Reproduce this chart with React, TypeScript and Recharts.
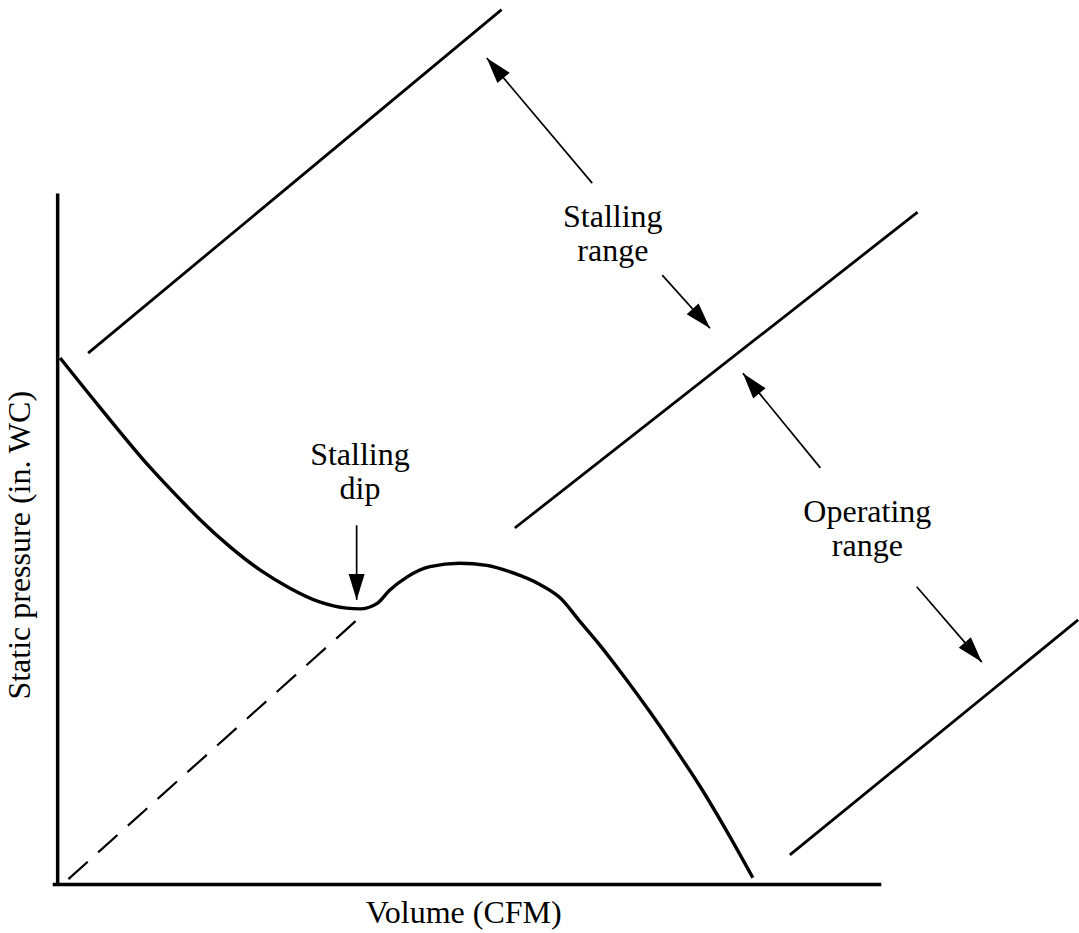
import React from 'react';
import { ComposedChart, Line, XAxis, YAxis, ReferenceLine, ReferenceDot } from 'recharts';

// Fan curve: volume (x) vs static pressure (y), arbitrary units 0..100 on each axis
const FAN_VOLUME = [0.3, 5.1, 11.2, 14.9, 17.3, 20.9, 24.6, 28.2, 31.8, 35.1, 36.7, 38.8, 40.3, 42.4, 45.2, 48.8, 52.1, 55.3, 58.6, 61.0, 63.4, 65.8, 68.9, 71.9, 74.9, 78.0, 81.3, 84.4];
const FAN_PRESSURE = [76.2, 69.1, 60.4, 55.7, 52.8, 48.9, 45.5, 42.9, 40.9, 40.0, 39.9, 40.7, 42.6, 44.5, 46.0, 46.5, 46.2, 45.1, 43.4, 41.5, 38.1, 34.7, 29.9, 25.0, 19.8, 14.2, 7.6, 1.0];

// Extension of the curve into the stall region (dashed)
const DASH_VOLUME = [1.3, 36.9];
const DASH_PRESSURE = [0.8, 38.9];

// System lines [x0, y0, x1, y1]
const SYSTEM_LINES = [
  [3.7, 76.9, 53.9, 126.6],
  [55.5, 51.6, 104.4, 97.3],
  [88.9, 4.3, 123.9, 38.3],
];

// Pointer arrows [tailX, tailY, tipX, tipY]
const ARROWS = [
  [36.3, 52.0, 36.3, 41.2],
  [64.9, 101.5, 52.1, 119.6],
  [73.4, 88.2, 79.2, 80.5],
  [92.6, 60.3, 83.2, 74.0],
  [104.3, 43.1, 112.2, 32.2],
];

// Annotations: position of first baseline
const NOTE_TEXT = [['Stalling', 'dip'], ['Stalling', 'range'], ['Operating', 'range']];
const NOTE_POS = [[36.7, 60.7], [67.4, 95.2], [98.3, 52.5]];

const X_LABEL = 'Volume (CFM)';
const Y_LABEL = 'Static pressure (in. WC)';

const FONT = '"Liberation Serif", "Times New Roman", serif';

const toPoints = (xs: number[], ys: number[]) => xs.map((x, i) => ({ x, y: ys[i] }));

const fanData = toPoints(FAN_VOLUME, FAN_PRESSURE);
const dashData = toPoints(DASH_VOLUME, DASH_PRESSURE);

function noteLabel(lines: string[], rotate = false) {
  return (props: any) => {
    const vb = props.viewBox || {};
    const cx = (vb.x || 0) + (vb.width || 0) / 2;
    const cy = (vb.y || 0) + (vb.height || 0) / 2;
    return (
      <text
        x={cx}
        y={cy}
        textAnchor="middle"
        fontSize={32}
        fontFamily={FONT}
        fill="#000"
        transform={rotate ? `rotate(-90 ${cx} ${cy})` : undefined}
      >
        {lines.map((l, i) => (
          <tspan key={i} x={cx} dy={i === 0 ? 0 : 34}>
            {l}
          </tspan>
        ))}
      </text>
    );
  };
}

function arrowHead(props: any) {
  const { cx, cy, index, points } = props;
  if (index !== 1 || !points || points.length < 2) return <g key={`ah-${index}`} />;
  const a = Math.atan2(cy - points[0].y, cx - points[0].x);
  const len = 26;
  const half = 8;
  const bx = cx - len * Math.cos(a);
  const by = cy - len * Math.sin(a);
  const px = -Math.sin(a) * half;
  const py = Math.cos(a) * half;
  return (
    <path
      key={`ah-${index}`}
      d={`M${cx},${cy} L${bx + px},${by + py} L${bx - px},${by - py} Z`}
      fill="#000"
      stroke="none"
    />
  );
}

export default function App() {
  return (
    <div style={{ position: 'absolute', left: 0, top: 0, background: '#fff' }}>
      <ComposedChart width={1079} height={933} margin={{ top: 0, right: 0, bottom: 0, left: 0 }}>
        <XAxis type="number" dataKey="x" domain={[-7, 124]} allowDataOverflow hide />
        <YAxis type="number" dataKey="y" domain={[-7, 128]} allowDataOverflow hide />

        {/* axes */}
        <ReferenceLine segment={[{ x: 0, y: 0 }, { x: 0, y: 100 }]} stroke="#000" strokeWidth={3.5} />
        <ReferenceLine segment={[{ x: -0.6, y: 0 }, { x: 100, y: 0 }]} stroke="#000" strokeWidth={3.5} />

        {/* system lines */}
        {SYSTEM_LINES.map((s, i) => (
          <Line
            key={`sys-${i}`}
            data={[{ x: s[0], y: s[1] }, { x: s[2], y: s[3] }]}
            dataKey="y"
            type="linear"
            stroke="#000"
            strokeWidth={2.8}
            dot={false}
            activeDot={false}
            isAnimationActive={false}
          />
        ))}

        {/* dashed stall extension */}
        <Line
          data={dashData}
          dataKey="y"
          type="linear"
          stroke="#000"
          strokeWidth={2.2}
          strokeDasharray="26 14"
          dot={false}
          activeDot={false}
          isAnimationActive={false}
        />

        {/* fan curve */}
        <Line
          data={fanData}
          dataKey="y"
          type="monotone"
          stroke="#000"
          strokeWidth={3.4}
          dot={false}
          activeDot={false}
          isAnimationActive={false}
        />

        {/* arrows */}
        {ARROWS.map((a, i) => (
          <Line
            key={`arrow-${i}`}
            data={[{ x: a[0], y: a[1] }, { x: a[2], y: a[3] }]}
            dataKey="y"
            type="linear"
            stroke="#000"
            strokeWidth={1.7}
            dot={arrowHead}
            activeDot={false}
            isAnimationActive={false}
          />
        ))}

        {/* text */}
        {NOTE_TEXT.map((lines, i) => (
          <ReferenceDot
            key={`note-${i}`}
            x={NOTE_POS[i][0]}
            y={NOTE_POS[i][1]}
            r={0}
            fill="none"
            stroke="none"
            label={noteLabel(lines)}
          />
        ))}
        <ReferenceDot x={49.3} y={-5.6} r={0} fill="none" stroke="none" label={noteLabel([X_LABEL])} />
        <ReferenceDot x={-3.3} y={49.1} r={0} fill="none" stroke="none" label={noteLabel([Y_LABEL], true)} />
      </ComposedChart>
    </div>
  );
}
